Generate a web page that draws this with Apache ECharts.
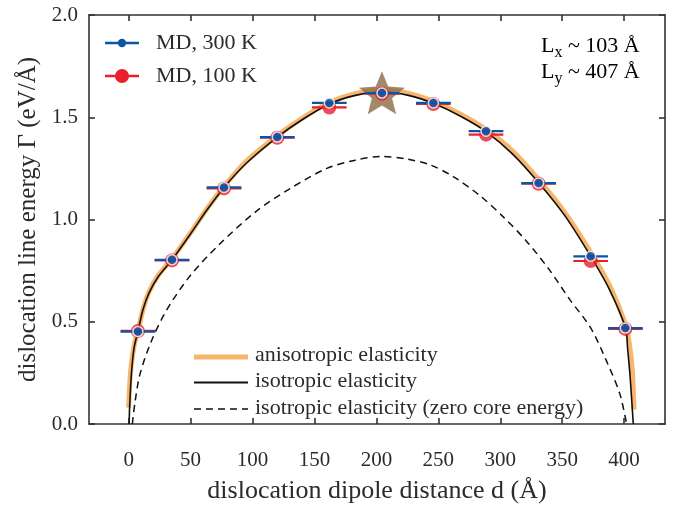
<!DOCTYPE html>
<html>
<head>
<meta charset="utf-8">
<script src="https://cdn.jsdelivr.net/npm/echarts@6/dist/echarts.min.js"></script>
<style>
  html, body { margin: 0; padding: 0; background: #fff; }
  #chart { width: 673px; height: 509px; }
</style>
</head>
<body>
<div id="chart"></div>
<script>
// MD points (dipole distance d in Å, line energy in eV/Å)
const mdD = [7.5, 35, 77, 120, 162, 204.5, 246, 288.5, 331, 373, 401];
const md300 = [0.452, 0.803, 1.157, 1.403, 1.570, 1.618, 1.570, 1.432, 1.178, 0.820, 0.469];
const md100 = [0.455, 0.800, 1.152, 1.400, 1.548, 1.615, 1.565, 1.415, 1.175, 0.797, 0.465];
const mdErr = [14, 14, 14, 14, 14, 14, 14, 14, 14, 14, 14];

// star marker (maximum)
const starD = [204.5];
const starE = [1.62];

// anisotropic elasticity
const anisoD = [0, 0.5, 1.5, 3, 5, 7.5, 11.6, 16.4, 23.7, 35, 50, 63, 77, 95, 120, 140, 162, 183, 204.5,
  226, 246, 268, 288.5, 310, 331, 352, 373, 388, 401, 404, 406.5, 408];
const anisoE = [0.08, 0.15, 0.25, 0.33, 0.40, 0.455, 0.56, 0.645, 0.725, 0.808, 0.935, 1.05, 1.162, 1.285, 1.41, 1.495, 1.572, 1.615, 1.635,
  1.617, 1.578, 1.515, 1.44, 1.335, 1.195, 1.035, 0.84, 0.68, 0.49, 0.40, 0.27, 0.07];

// isotropic elasticity
const isoD = [0.4, 0.8, 2.2, 4.3, 7.5, 11.6, 16.4, 23.7, 35, 50, 63, 77, 95, 120, 140, 162, 183, 204.5,
  226, 246, 268, 288.5, 310, 331, 352, 373, 388, 401.2, 402.8, 404.7, 407.4];
const isoE = [0, 0.083, 0.243, 0.369, 0.452, 0.56, 0.64, 0.719, 0.803, 0.93, 1.045, 1.157, 1.275, 1.403, 1.488, 1.565, 1.607, 1.625,
  1.607, 1.568, 1.505, 1.43, 1.32, 1.18, 1.02, 0.82, 0.66, 0.469, 0.369, 0.242, 0];

// isotropic elasticity, zero core energy
const zcD = [3, 5, 9, 18, 30, 49, 73.5, 103, 130, 160, 183, 204, 225, 243, 262, 283.5, 302.4, 321.2, 340, 356.2, 373, 386, 396.6, 402];
const zcE = [0, 0.1, 0.24, 0.40, 0.55, 0.72, 0.88, 1.04, 1.15, 1.25, 1.29, 1.308, 1.295, 1.268, 1.21, 1.117, 1.013, 0.894, 0.751, 0.608, 0.47, 0.305, 0.146, 0];

const xTicks = [0, 50, 100, 150, 200, 250, 300, 350, 400];

const zip = (a, b) => a.map((v, i) => [v, b[i]]);
const zip3 = (a, b, c) => a.map((v, i) => [v, b[i], c[i]]);

const FONT = '"Liberation Serif", "DejaVu Serif", serif';
const TXT = '#2b2b2b';
const BLUE = '#0a55a6';
const RED = '#e8212b';
const ORANGE = '#f8b56c';
const STAR = '#8c6c45';
const STAR_PATH = 'path://M50 0 L62.93 32.2 L97.55 34.55 L70.92 56.8 L79.39 90.45 L50 72 L20.61 90.45 L29.08 56.8 L2.45 34.55 L37.07 32.2 Z';

function errBar(color) {
    return function (params, api) {
        const x = api.value(0), y = api.value(1), e = api.value(2);
        const a = api.coord([x - e, y]);
        const b = api.coord([x + e, y]);
        return {
            type: 'line',
            shape: { x1: a[0], y1: a[1], x2: b[0], y2: b[1] },
            style: { stroke: color, lineWidth: 2.2 }
        };
    };
}

function legendText(x, y, text) {
    return {
        type: 'text', x: x, y: y,
        style: { text: text, fill: TXT, font: '22px ' + FONT, verticalAlign: 'middle' }
    };
}

function cellText(y, sub, rest) {
    return {
        type: 'text', x: 541, y: y,
        style: {
            text: '{a|L}{s|' + sub + '}{a| ~ ' + rest + '}',
            verticalAlign: 'middle',
            rich: {
                a: { fontFamily: FONT, fontSize: 22, lineHeight: 24, color: TXT },
                s: { fontFamily: FONT, fontSize: 16, lineHeight: 16, verticalAlign: 'bottom', color: TXT, padding: [0, 0, -3, 0] }
            }
        }
    };
}

const chart = echarts.init(document.getElementById('chart'));

const axisLine = { show: true, onZero: false, lineStyle: { color: '#333', width: 1.6 } };
const tick = { inside: true, length: 6, lineStyle: { color: '#333', width: 1.6 } };

const option = {
    animation: false,
    backgroundColor: '#fff',
    grid: { left: 89, right: 8, top: 15, bottom: 75 },
    xAxis: [
        {
            type: 'value', min: -32, max: 433,
            axisLine: axisLine,
            axisTick: Object.assign({ customValues: xTicks }, tick),
            axisLabel: { customValues: xTicks, margin: 26, color: TXT, fontFamily: FONT, fontSize: 21 },
            splitLine: { show: false },
            name: 'dislocation dipole distance d (Å)',
            nameLocation: 'middle', nameGap: 54,
            nameTextStyle: { color: TXT, fontFamily: FONT, fontSize: 26 }
        },
        {
            type: 'value', min: -32, max: 433, position: 'top',
            axisLine: axisLine,
            axisTick: Object.assign({ customValues: xTicks }, tick),
            axisLabel: { show: false },
            splitLine: { show: false }
        }
    ],
    yAxis: [
        {
            type: 'value', min: 0, max: 2, interval: 0.5,
            axisLine: axisLine,
            axisTick: tick,
            axisLabel: { margin: 11, color: TXT, fontFamily: FONT, fontSize: 21, formatter: v => v.toFixed(1) },
            splitLine: { show: false },
            name: 'dislocation line energy Γ (eV/Å)',
            nameLocation: 'middle', nameGap: 47, nameRotate: 90,
            nameTextStyle: { color: TXT, fontFamily: FONT, fontSize: 25 }
        },
        {
            type: 'value', min: 0, max: 2, interval: 0.5, position: 'right',
            axisLine: axisLine,
            axisTick: tick,
            axisLabel: { show: false },
            splitLine: { show: false }
        }
    ],
    series: [
        {
            name: 'anisotropic elasticity', type: 'line', data: zip(anisoD, anisoE),
            smooth: 0.3, showSymbol: false, z: 1,
            lineStyle: { color: ORANGE, width: 5 }
        },
        {
            name: 'isotropic elasticity', type: 'line', data: zip(isoD, isoE),
            smooth: 0.3, showSymbol: false, z: 2,
            lineStyle: { color: '#111', width: 1.6 }
        },
        {
            name: 'isotropic elasticity (zero core energy)', type: 'line', data: zip(zcD, zcE),
            smooth: 0.3, showSymbol: false, z: 2,
            lineStyle: { color: '#111', width: 1.5, type: [7, 5] }
        },
        {
            name: 'max', type: 'scatter', data: zip(starD, starE), z: 3,
            symbol: STAR_PATH, symbolSize: [46, 43],
            itemStyle: { color: STAR }
        },
        {
            name: 'MD, 100 K err', type: 'custom', data: zip3(mdD, md100, mdErr), z: 4,
            renderItem: errBar(RED)
        },
        {
            name: 'MD, 100 K', type: 'scatter', data: zip(mdD, md100), z: 5,
            symbol: 'circle', symbolSize: 14,
            itemStyle: { color: RED }
        },
        {
            name: 'MD, 300 K err', type: 'custom', data: zip3(mdD, md300, mdErr), z: 6,
            renderItem: errBar(BLUE)
        },
        {
            name: 'MD, 300 K', type: 'scatter', data: zip(mdD, md300), z: 7,
            symbol: 'circle', symbolSize: 10,
            itemStyle: { color: BLUE, borderColor: '#fff', borderWidth: 1.5 }
        }
    ],
    graphic: [
        // top-left legend
        { type: 'line', shape: { x1: 105, y1: 43, x2: 139, y2: 43 }, style: { stroke: BLUE, lineWidth: 2.5 } },
        { type: 'circle', shape: { cx: 122, cy: 43, r: 4.2 }, style: { fill: BLUE } },
        legendText(156, 43, 'MD, 300 K'),
        { type: 'line', shape: { x1: 105, y1: 76, x2: 139, y2: 76 }, style: { stroke: RED, lineWidth: 2.5 } },
        { type: 'circle', shape: { cx: 122, cy: 76, r: 7 }, style: { fill: RED } },
        legendText(156, 76, 'MD, 100 K'),
        // top-right cell size
        cellText(46, 'x', '103 Å'),
        cellText(72, 'y', '407 Å'),
        // bottom legend
        { type: 'line', shape: { x1: 194, y1: 357, x2: 248, y2: 357 }, style: { stroke: ORANGE, lineWidth: 5 } },
        legendText(255, 355, 'anisotropic elasticity'),
        { type: 'line', shape: { x1: 194, y1: 382.5, x2: 248, y2: 382.5 }, style: { stroke: '#111', lineWidth: 1.8 } },
        legendText(255, 381, 'isotropic elasticity'),
        { type: 'line', shape: { x1: 194, y1: 409, x2: 248, y2: 409 }, style: { stroke: '#111', lineWidth: 1.5, lineDash: [7, 5] } },
        legendText(255, 408, 'isotropic elasticity (zero core energy)')
    ]
};

chart.setOption(option);
</script>
</body>
</html>
